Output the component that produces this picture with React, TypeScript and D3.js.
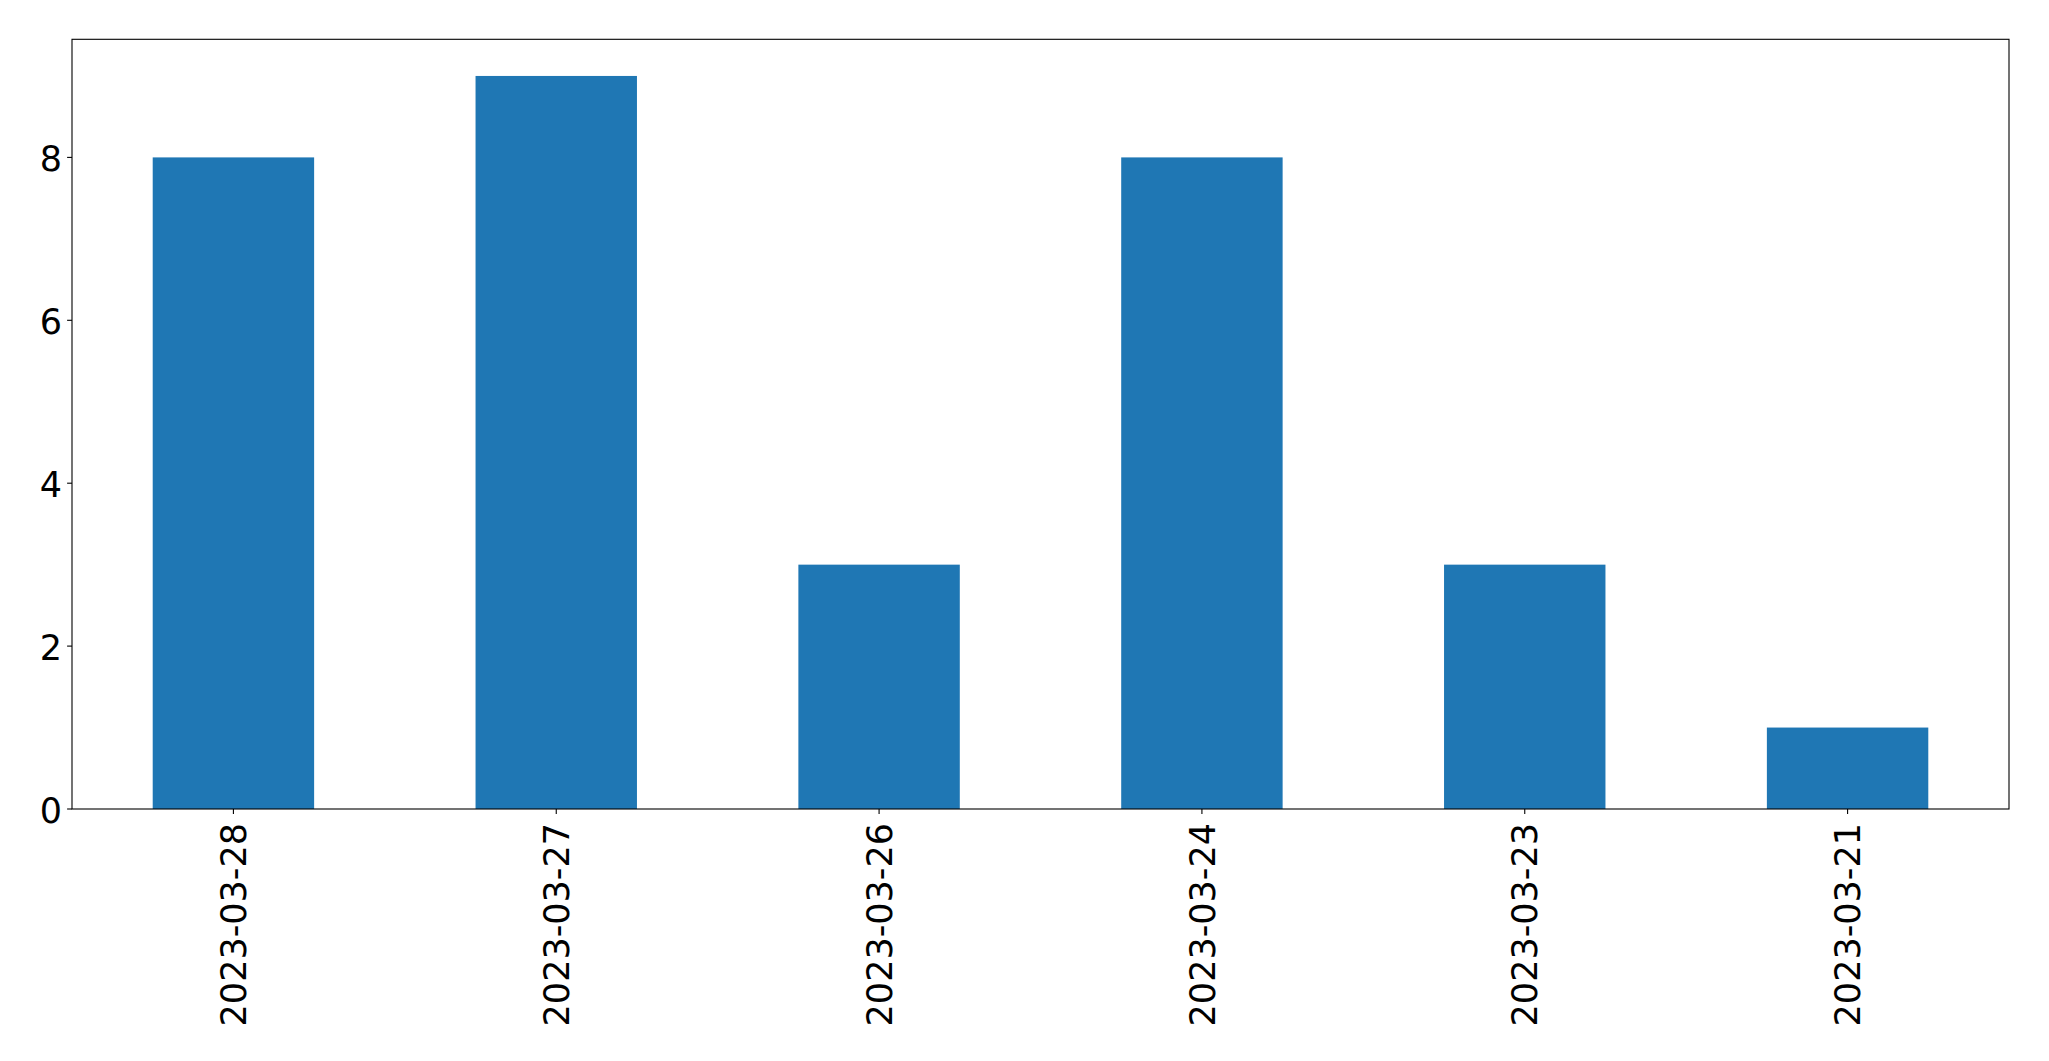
import React from "react";
import * as d3 from "d3";

const categories = ["2023-03-28", "2023-03-27", "2023-03-26", "2023-03-24", "2023-03-23", "2023-03-21"];
const values = [8, 9, 3, 8, 3, 1];
const yTicks = [0, 2, 4, 6, 8];

const W = 2049;
const H = 1061;
const left = 72;
const right = 2009;
const top = 39.3;
const bottom = 809;

export default function App() {
  const x = d3.scaleLinear().domain([-0.5, categories.length - 0.5]).range([left, right]);
  const y = d3.scaleLinear().domain([0, 9.45]).range([bottom, top]);
  const bw = x(0.25) - x(-0.25);
  const font = "'DejaVu Sans', sans-serif";
  const fs = 35;
  return (
    <svg width={W} height={H} style={{ position: "absolute", left: 0, top: 0, background: "#fff" }}>
      <rect x={0} y={0} width={W} height={H} fill="#fff" />
      {values.map((v, i) => (
        <rect key={i} x={x(i) - bw / 2} y={y(v)} width={bw} height={y(0) - y(v)} fill="#1f77b4" />
      ))}
      <rect x={left} y={top} width={right - left} height={bottom - top} fill="none" stroke="#000" strokeWidth={1.1} />
      {yTicks.map((t) => (
        <g key={t}>
          <line x1={left - 4.9} x2={left} y1={y(t)} y2={y(t)} stroke="#000" strokeWidth={1.1} />
          <text x={left - 10} y={y(t)} dy="0.4em" textAnchor="end" fontFamily={font} fontSize={fs} fill="#000">
            {t}
          </text>
        </g>
      ))}
      {categories.map((c, i) => (
        <g key={c}>
          <line x1={x(i)} x2={x(i)} y1={bottom} y2={bottom + 4.9} stroke="#000" strokeWidth={1.1} />
          <text
            transform={`translate(${x(i)},${bottom + 14}) rotate(-90)`}
            dy="0.36em"
            textAnchor="end"
            fontFamily={font}
            fontSize={fs}
            fill="#000"
          >
            {c}
          </text>
        </g>
      ))}
    </svg>
  );
}
